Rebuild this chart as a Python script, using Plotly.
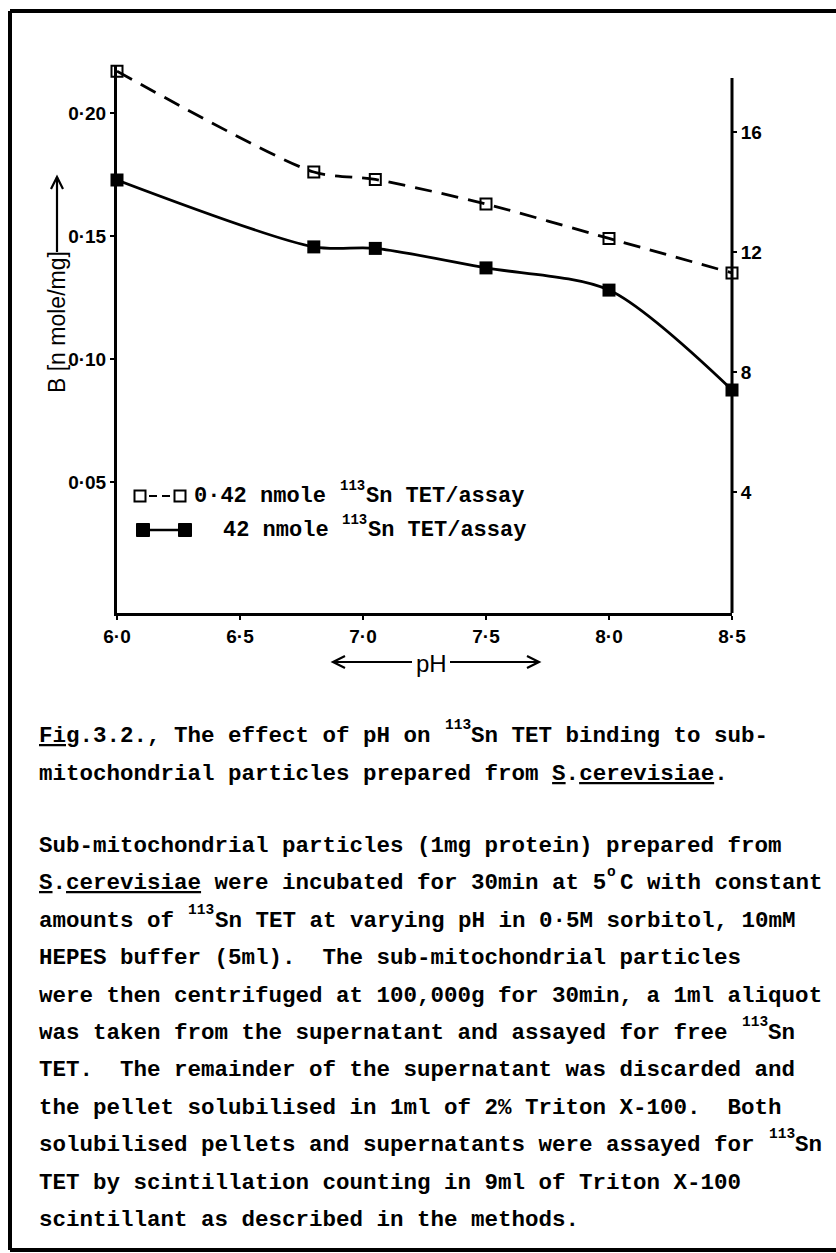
import re
import math
import plotly.graph_objects as go

# ---------------- data ----------------
ph_low = [6.0, 6.8, 7.05, 7.5, 8.0, 8.5]
b_low = [0.217, 0.176, 0.173, 0.163, 0.149, 0.135]          # 0.42 nmole (left axis)
ph_high = [6.0, 6.8, 7.05, 7.5, 8.0, 8.5]
b_high = [14.4, 12.17, 12.12, 11.47, 10.73, 7.4]              # 42 nmole (right axis)

x_ticks = [6.0, 6.5, 7.0, 7.5, 8.0, 8.5]
x_ticklabels = ["6·0", "6·5", "7·0", "7·5", "8·0", "8·5"]
y_ticks = [0.05, 0.10, 0.15, 0.20]
y_ticklabels = ["0·05", "0·10", "0·15", "0·20"]
y2_ticks = [4, 8, 12, 16]
y2_ticklabels = ["4", "8", "12", "16"]

# {..} marks a raised (superscript) part of the typed text
legend_labels = ["0·42 nmole {113}Sn TET/assay",
                 "42 nmole {113}Sn TET/assay"]

caption_title = ["<u>Fig</u>.3.2., The effect of pH on {113}Sn TET binding to sub-",
                 "mitochondrial particles prepared from <u>S</u>.<u>cerevisiae</u>."]
caption_body = [
    "Sub-mitochondrial particles (1mg protein) prepared from",
    "<u>S</u>.<u>cerevisiae</u> were incubated for 30min at 5{o}C with constant",
    "amounts of {113}Sn TET at varying pH in 0·5M sorbitol, 10mM",
    "HEPES buffer (5ml).  The sub-mitochondrial particles",
    "were then centrifuged at 100,000g for 30min, a 1ml aliquot",
    "was taken from the supernatant and assayed for free {113}Sn",
    "TET.  The remainder of the supernatant was discarded and",
    "the pellet solubilised in 1ml of 2% Triton X-100.  Both",
    "solubilised pellets and supernatants were assayed for {113}Sn",
    "TET by scintillation counting in 9ml of Triton X-100",
    "scintillant as described in the methods.",
]

# ---------------- layout geometry (pixels) ----------------
W, H = 836, 1253
PL, PR, PT, PB = 117, 732, 66, 613


def px(x):
    return (x - PL) / (PR - PL)


def py(y):
    return (PB - y) / (PB - PT)


MONO = "Liberation Mono, DejaVu Sans Mono, monospace"
SANS = "Liberation Sans, Arial, sans-serif"

fig = go.Figure()

fig.add_trace(go.Scatter(
    x=ph_low, y=b_low, mode="lines+markers",
    line=dict(color="black", width=2.8, dash="17px,10px", shape="spline", smoothing=0.7),
    marker=dict(symbol="square-open", size=11, color="black", line=dict(width=2, color="black")),
    cliponaxis=False, showlegend=False, yaxis="y"))

fig.add_trace(go.Scatter(
    x=ph_high, y=b_high, mode="lines+markers",
    line=dict(color="black", width=2.8, shape="spline", smoothing=0.8),
    marker=dict(symbol="square", size=13, color="black"),
    cliponaxis=False, showlegend=False, yaxis="y2"))

tickfont = dict(family=SANS, size=19, color="black", weight="bold")
fig.update_layout(
    width=W, height=H,
    margin=dict(l=PL, r=W - PR, t=PT, b=H - PB),
    paper_bgcolor="white", plot_bgcolor="white",
    xaxis=dict(range=[6.0, 8.5], tickvals=x_ticks, ticktext=x_ticklabels,
               showline=True, linewidth=3, linecolor="black",
               ticks="outside", ticklen=4, tickwidth=2, tickcolor="black",
               showgrid=False, zeroline=False, tickfont=tickfont),
    yaxis=dict(range=[-0.00325, 0.2191], tickvals=y_ticks, ticktext=y_ticklabels,
               showline=True, linewidth=3, linecolor="black",
               ticks="outside", ticklen=4, tickwidth=2, tickcolor="black",
               showgrid=False, zeroline=False, tickfont=tickfont),
    yaxis2=dict(range=[-0.033, 18.2], tickvals=y2_ticks, ticktext=y2_ticklabels,
                overlaying="y", side="right", showline=False,
                ticks="outside", ticklen=4, tickwidth=2, tickcolor="black",
                showgrid=False, zeroline=False, tickfont=tickfont),
)

shapes = []
# right axis line (stops a little below the top of the left axis)
shapes.append(dict(type="line", xref="paper", yref="y2", x0=1, x1=1, y0=-0.033, y1=17.8,
                   line=dict(color="black", width=3), layer="above"))
# page frame
shapes.append(dict(type="line", xref="paper", yref="paper", x0=px(10), x1=px(10), y0=py(11), y1=py(1250),
                   line=dict(color="black", width=4)))
shapes.append(dict(type="line", xref="paper", yref="paper", x0=px(10), x1=px(836), y0=py(11), y1=py(11),
                   line=dict(color="black", width=4)))
shapes.append(dict(type="line", xref="paper", yref="paper", x0=px(10), x1=px(836), y0=py(1250), y1=py(1250),
                   line=dict(color="black", width=4)))


def arrow(x0, y0, x1, y1, head=12, half=6, width=2.2):
    """Line from (x0,y0) to (x1,y1) in page pixels, chevron head at (x1,y1)."""
    out = [dict(type="line", xref="paper", yref="paper", x0=px(x0), y0=py(y0), x1=px(x1), y1=py(y1),
                line=dict(color="black", width=width))]
    dx, dy = x1 - x0, y1 - y0
    n = (dx * dx + dy * dy) ** 0.5
    ux, uy = dx / n, dy / n
    bx, by = x1 - ux * head, y1 - uy * head
    pts = [(bx - uy * half, by + ux * half), (x1, y1), (bx + uy * half, by - ux * half)]
    path = "M {} {} L {} {} L {} {}".format(px(pts[0][0]), py(pts[0][1]), px(pts[1][0]), py(pts[1][1]),
                                          px(pts[2][0]), py(pts[2][1]))
    out.append(dict(type="path", xref="paper", yref="paper", path=path,
                    line=dict(color="black", width=width)))
    return out


shapes += arrow(57, 252, 57, 177)      # y-title arrow
shapes += arrow(412, 662, 333, 662)    # pH left arrow
shapes += arrow(450, 662, 539, 662)    # pH right arrow

# legend glyphs
r1, r2 = 496, 530
for cx in (140, 180):
    shapes.append(dict(type="rect", xref="paper", yref="paper",
                       x0=px(cx - 5.5), x1=px(cx + 5.5), y0=py(r1 + 5.5), y1=py(r1 - 5.5),
                       line=dict(color="black", width=2), fillcolor="white"))
for x0, x1 in ((149, 157), (162, 170)):
    shapes.append(dict(type="line", xref="paper", yref="paper", x0=px(x0), x1=px(x1), y0=py(r1), y1=py(r1),
                       line=dict(color="black", width=2)))
shapes.append(dict(type="line", xref="paper", yref="paper", x0=px(149), x1=px(179), y0=py(r2), y1=py(r2),
                   line=dict(color="black", width=2.5)))
for cx in (143, 185):
    shapes.append(dict(type="rect", xref="paper", yref="paper",
                       x0=px(cx - 6.5), x1=px(cx + 6.5), y0=py(r2 + 6.5), y1=py(r2 - 6.5),
                       line=dict(color="black", width=1), fillcolor="black"))
fig.update_layout(shapes=shapes)


def vis_len(s):
    return len(re.sub(r"<[^>]+>", "", s))


def typed_line(text, x0, yc, size, sup_size=14, raise_px=11):
    """Monospace typed line split into side-by-side pieces; {..} parts are raised."""
    cw = 0.6 * size
    pieces = []          # (kind, text, char_index)
    idx = 0
    pos = 0
    for m in re.finditer(r"\{([^}]*)\}", text):
        seg = text[pos:m.start()]
        pieces.append(("main", seg, idx))
        idx += vis_len(seg)
        sup = m.group(1)
        pieces.append(("sup", sup, idx))
        idx += max(1, math.ceil(len(sup) * 0.6 * sup_size / cw))
        pos = m.end()
    pieces.append(("main", text[pos:], idx))

    res = []
    for kind, seg, ci in pieces:
        if kind == "main":
            lead = len(seg) - len(seg.lstrip(" "))
            seg = seg.strip(" ")
            if not seg:
                continue
            res.append(dict(xref="paper", yref="paper", x=px(x0 + (ci + lead) * cw), y=py(yc), text=seg,
                            showarrow=False, xanchor="left", yanchor="middle", borderpad=0,
                            font=dict(family=MONO, size=size, color="black", weight="bold")))
        else:
            res.append(dict(xref="paper", yref="paper", x=px(x0 + ci * cw + 0.6), y=py(yc - raise_px), text=seg,
                            showarrow=False, xanchor="left", yanchor="middle", borderpad=0,
                            font=dict(family=MONO, size=sup_size, color="black", weight="bold")))
    return res


ann = []
# y-axis title (rotated)
ann.append(dict(xref="paper", yref="paper", x=px(57), y=py(322), text="B [n mole/mg]",
                textangle=-90, showarrow=False, xanchor="center", yanchor="middle",
                font=dict(family=SANS, size=23, color="black")))
# x-axis title
ann.append(dict(xref="paper", yref="paper", x=px(431), y=py(663), text="pH", showarrow=False,
                xanchor="center", yanchor="middle", font=dict(family=SANS, size=24, color="black")))
# legend text
ann += typed_line(legend_labels[0], 193, r1, 22, sup_size=14, raise_px=10)
ann += typed_line(legend_labels[1], 222, r2, 22, sup_size=14, raise_px=10)
# caption
cap_y = [736, 774]
body_y0, body_dy = 846, 37.4
for i, line in enumerate(caption_title):
    ann += typed_line(line, 38, cap_y[i], 22.5, sup_size=14.5)
for i, line in enumerate(caption_body):
    ann += typed_line(line, 38, body_y0 + i * body_dy, 22.5, sup_size=14.5)
fig.update_layout(annotations=ann)

fig.write_html("out.html", config={"displayModeBar": False},
               post_script="document.body.style.margin='0';document.body.style.overflow='hidden';")
